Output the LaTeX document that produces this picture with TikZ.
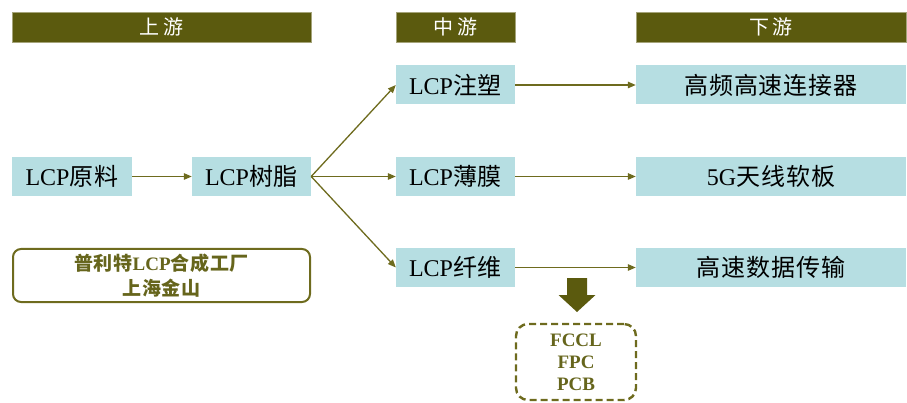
\documentclass[tikz,border=0pt]{standalone}
\usepackage{fontspec}
\setmainfont{Liberation Serif}
\newfontfamily\cjk[LetterSpace=4]{Noto Sans CJK SC}
\newfontfamily\cjkwide[LetterSpace=18]{Noto Sans CJK SC}
\usetikzlibrary{arrows.meta}
\definecolor{olivehead}{HTML}{5B5A0E}
\definecolor{oliveline}{HTML}{6E6B1E}
\definecolor{olivetext}{HTML}{66651C}
\definecolor{boxblue}{HTML}{B6DEE2}
\newcommand\zh[1]{{\cjk #1}}
\tikzset{
  header/.style={fill=olivehead, draw=olivehead!55!white, line width=0.8pt,
    minimum height=30pt, inner sep=0pt, text=white,
    font=\fontsize{20}{22}\selectfont\cjkwide},
  stagebox/.style={fill=boxblue, minimum height=39pt, inner sep=0pt,
    font=\fontsize{24}{26}\selectfont},
  flow/.style={draw=oliveline, line width=1.3pt,
    -{Triangle[length=8pt,width=6.5pt]}},
  plantbox/.style={draw=oliveline, line width=2pt, rounded corners=8pt,
    minimum width=297pt, minimum height=53pt, align=center, text=olivetext,
    font=\fontsize{19}{25}\selectfont\bfseries},
  usebox/.style={draw=oliveline, line width=2.4pt, dash pattern=on 7pt off 4pt,
    rounded corners=12pt, minimum width=120pt, minimum height=76pt,
    align=center, text=olivetext, font=\fontsize{19}{22}\selectfont\bfseries},
}
\begin{document}
\begin{tikzpicture}[x=1pt,y=-1pt]
\useasboundingbox (0,0) rectangle (907,403);

% stage headers
\node[header, minimum width=299pt] (hU) at (161.5,27) {上游};
\node[header, minimum width=119pt] (hM) at (455.5,27) {中游};
\node[header, minimum width=270pt] (hD) at (771,27) {下游};

% upstream
\node[stagebox, minimum width=120pt] (raw)   at (72,176.5)    {LCP\zh{原料}};
\node[stagebox, minimum width=119pt] (resin) at (251.5,176.5) {LCP\zh{树脂}};

% midstream
\node[stagebox, minimum width=119pt] (inj)   at (455.5,85)    {LCP\zh{注塑}};
\node[stagebox, minimum width=119pt] (film)  at (455.5,176.5) {LCP\zh{薄膜}};
\node[stagebox, minimum width=119pt] (fiber) at (455.5,267.5) {LCP\zh{纤维}};

% downstream
\node[stagebox, minimum width=270pt] (conn) at (771,85)    {\zh{高频高速连接器}};
\node[stagebox, minimum width=270pt] (ant)  at (771,176.5) {5G\zh{天线软板}};
\node[stagebox, minimum width=270pt] (data) at (771,267.5) {\zh{高速数据传输}};

% plant note
\node[plantbox] (plant) at (161.5,275.5)
  {\zh{普利特}LCP\zh{合成工厂}\\\zh{上海金山}};

% board products
\node[usebox] (pcb) at (576,362) {FCCL\\FPC\\PCB};

% flows
\draw[flow] (raw.east) -- (resin.west);
\draw[flow] (resin.east) -- (inj.west);
\draw[flow] (resin.east) -- (film.west);
\draw[flow] (resin.east) -- (fiber.west);
\draw[flow] (inj.east) -- (conn.west);
\draw[flow] (film.east) -- (ant.west);
\draw[flow] (fiber.east) -- (data.west);

% block arrow down to board products
\fill[olivehead] (567,278) -- (587,278) -- (587,295) -- (595.5,295)
  -- (577,312) -- (558.5,295) -- (567,295) -- cycle;
\end{tikzpicture}
\end{document}
